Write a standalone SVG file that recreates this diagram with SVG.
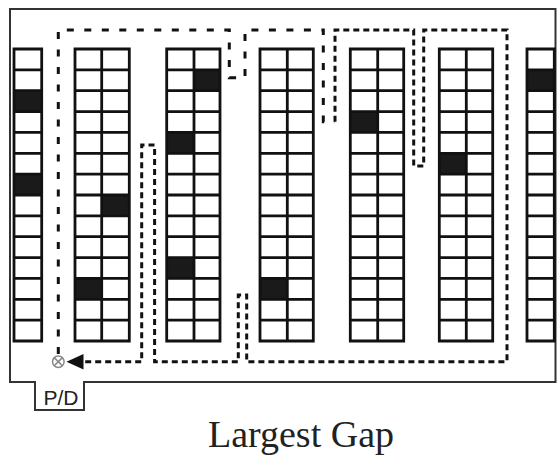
<svg xmlns="http://www.w3.org/2000/svg" width="557" height="459" viewBox="0 0 557 459">
<style>
.grid{fill:none;stroke:#111;stroke-width:2.8}
.dark{fill:#1a1a1a}
.wall{fill:none;stroke:#333;stroke-width:2}
.sparse{fill:none;stroke:#111;stroke-width:3;stroke-dasharray:7 10.5}
.dense{fill:none;stroke:#111;stroke-width:3;stroke-dasharray:6 4}
.head{fill:#111}
.lbl{font-family:"Liberation Sans",Arial,sans-serif;font-size:21px;fill:#222}
.cap{font-family:"Liberation Serif","Times New Roman",serif;font-size:38px;fill:#222}
</style>
<rect width="557" height="459" fill="#fff"/>
<g id="warehouse">
<path class="wall" d="M10 9 H555.5 V382 H84 V410 H35 V382 H10 Z"/>
</g>
<g id="rack1">
<rect class="dark" x="14" y="90.71" width="27.7" height="20.86"/>
<rect class="dark" x="14" y="174.14" width="27.7" height="20.86"/>
<path class="grid" d="M14 49 H41.7 V341 H14 Z M14 69.86 H41.7 M14 90.71 H41.7 M14 111.57 H41.7 M14 132.43 H41.7 M14 153.29 H41.7 M14 174.14 H41.7 M14 195 H41.7 M14 215.86 H41.7 M14 236.71 H41.7 M14 257.57 H41.7 M14 278.43 H41.7 M14 299.29 H41.7 M14 320.14 H41.7"/>
</g>
<g id="rack2">
<rect class="dark" x="75" y="278.43" width="26.7" height="20.86"/>
<rect class="dark" x="101.7" y="195" width="27.6" height="20.86"/>
<path class="grid" d="M75 49 H129.3 V341 H75 Z M101.7 49 V341 M75 69.86 H129.3 M75 90.71 H129.3 M75 111.57 H129.3 M75 132.43 H129.3 M75 153.29 H129.3 M75 174.14 H129.3 M75 195 H129.3 M75 215.86 H129.3 M75 236.71 H129.3 M75 257.57 H129.3 M75 278.43 H129.3 M75 299.29 H129.3 M75 320.14 H129.3"/>
</g>
<g id="rack3">
<rect class="dark" x="194" y="69.86" width="26" height="20.86"/>
<rect class="dark" x="166.7" y="132.43" width="27.3" height="20.86"/>
<rect class="dark" x="166.7" y="257.57" width="27.3" height="20.86"/>
<path class="grid" d="M166.7 49 H220 V341 H166.7 Z M194 49 V341 M166.7 69.86 H220 M166.7 90.71 H220 M166.7 111.57 H220 M166.7 132.43 H220 M166.7 153.29 H220 M166.7 174.14 H220 M166.7 195 H220 M166.7 215.86 H220 M166.7 236.71 H220 M166.7 257.57 H220 M166.7 278.43 H220 M166.7 299.29 H220 M166.7 320.14 H220"/>
</g>
<g id="rack4">
<rect class="dark" x="260" y="278.43" width="27.3" height="20.86"/>
<path class="grid" d="M260 49 H313.3 V341 H260 Z M287.3 49 V341 M260 69.86 H313.3 M260 90.71 H313.3 M260 111.57 H313.3 M260 132.43 H313.3 M260 153.29 H313.3 M260 174.14 H313.3 M260 195 H313.3 M260 215.86 H313.3 M260 236.71 H313.3 M260 257.57 H313.3 M260 278.43 H313.3 M260 299.29 H313.3 M260 320.14 H313.3"/>
</g>
<g id="rack5">
<rect class="dark" x="350.3" y="111.57" width="27.4" height="20.86"/>
<path class="grid" d="M350.3 49 H403.7 V341 H350.3 Z M377.7 49 V341 M350.3 69.86 H403.7 M350.3 90.71 H403.7 M350.3 111.57 H403.7 M350.3 132.43 H403.7 M350.3 153.29 H403.7 M350.3 174.14 H403.7 M350.3 195 H403.7 M350.3 215.86 H403.7 M350.3 236.71 H403.7 M350.3 257.57 H403.7 M350.3 278.43 H403.7 M350.3 299.29 H403.7 M350.3 320.14 H403.7"/>
</g>
<g id="rack6">
<rect class="dark" x="439.3" y="153.29" width="27" height="20.86"/>
<path class="grid" d="M439.3 49 H492.7 V341 H439.3 Z M466.3 49 V341 M439.3 69.86 H492.7 M439.3 90.71 H492.7 M439.3 111.57 H492.7 M439.3 132.43 H492.7 M439.3 153.29 H492.7 M439.3 174.14 H492.7 M439.3 195 H492.7 M439.3 215.86 H492.7 M439.3 236.71 H492.7 M439.3 257.57 H492.7 M439.3 278.43 H492.7 M439.3 299.29 H492.7 M439.3 320.14 H492.7"/>
</g>
<g id="rack7">
<rect class="dark" x="527" y="69.86" width="27.3" height="20.86"/>
<path class="grid" d="M527 49 H554.3 V341 H527 Z M527 69.86 H554.3 M527 90.71 H554.3 M527 111.57 H554.3 M527 132.43 H554.3 M527 153.29 H554.3 M527 174.14 H554.3 M527 195 H554.3 M527 215.86 H554.3 M527 236.71 H554.3 M527 257.57 H554.3 M527 278.43 H554.3 M527 299.29 H554.3 M527 320.14 H554.3"/>
</g>
<g id="pd">
<circle cx="58.3" cy="361.7" r="5.8" fill="#fff" stroke="#888" stroke-width="1.5"/>
<path d="M54.2 357.6 L62.4 365.8 M62.4 357.6 L54.2 365.8" stroke="#888" stroke-width="1.5"/>
<text class="lbl" x="61" y="405" text-anchor="middle">P/D</text>
</g>
<g id="connectors">
<path class="sparse" d="M58.3 354 V30 H229.3 V77.7 H245 V30 H323.3 V121.7 H335"/>
<path class="dense" d="M335 121.7 V30 H413.7 V166 H423.7 V30 H507 V361.7 H246.7 V295 H238.3 V361.7 H154.6 V145 H141.7 V361.7 H83"/>
<polygon class="head" points="66.5,361.7 83.5,354 83.5,369.4"/>
</g>
<text class="cap" x="301" y="447" text-anchor="middle">Largest Gap</text>
</svg>
